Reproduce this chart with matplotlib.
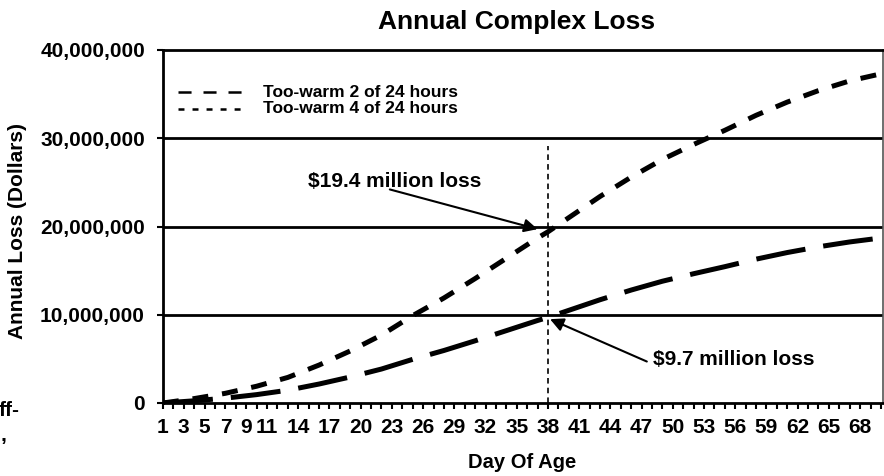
import numpy as np
import matplotlib
matplotlib.use("Agg")
import matplotlib.pyplot as plt
from matplotlib.ticker import FuncFormatter

plt.rcParams['font.family'] = ['Liberation Sans', 'DejaVu Sans']
plt.rcParams['font.weight'] = 'bold'
plt.rcParams['lines.scale_dashes'] = False

# datos (millones de dolares)
days = [1, 4, 7, 10, 13, 16, 19, 22, 25, 28, 31, 34, 37, 38, 40, 43, 46, 49,
        52, 55, 58, 61, 64, 67, 70]
loss_4h = [0.0, 0.5, 1.1, 1.9, 2.9, 4.3, 5.9, 7.7, 9.9, 11.9, 14.1, 16.4, 18.7,
           19.4, 21.0, 23.4, 25.6, 27.6, 29.3, 30.9, 32.6, 34.1, 35.4, 36.5, 37.3]
loss_2h = [0.0, 0.25, 0.55, 0.95, 1.45, 2.15, 2.95, 3.85, 4.95, 5.95, 7.05, 8.2,
           9.35, 9.7, 10.5, 11.7, 12.8, 13.8, 14.65, 15.45, 16.3, 17.05, 17.7,
           18.25, 18.7]
label_days = [1, 3, 5, 7, 9, 11] + list(range(14, 69, 3))
yticks = [0, 10e6, 20e6, 30e6, 40e6]
marker_day = 38

fig = plt.figure(figsize=(8.84, 4.76), dpi=100)
ax = fig.add_axes([163/884, 1-403/476, 720/884, 353/476])

d = np.array(days)
ax.plot(d, np.array(loss_2h)*1e6, color='black', lw=3.6,
        linestyle=(0, (36, 13)), dash_capstyle='butt')
ax.plot(d, np.array(loss_4h)*1e6, color='black', lw=3.6,
        linestyle=(0, (11.5, 10)), dash_capstyle='butt')

# linea vertical dia 38
ax.plot([marker_day, marker_day], [0, 29.1e6], color='black', lw=1.2,
        linestyle=(0, (4, 3)))

ax.set_xlim(1, 70.2)
ax.set_ylim(0, 40e6)
ax.set_yticks(yticks)
ax.yaxis.set_major_formatter(FuncFormatter(lambda v, p: f"{int(v):,}"))
ax.set_xticks(range(1, 71))
ax.set_xticklabels([str(x) if x in label_days else '' for x in range(1, 71)])
ax.tick_params(axis='both', direction='out', length=4, width=1.5, labelsize=15)
ax.tick_params(axis='y', pad=9)
ax.tick_params(axis='x', pad=7)
for t in ax.get_xticklabels() + ax.get_yticklabels():
    t.set_fontweight('bold')

for y in yticks[1:4]:
    ax.axhline(y, color='black', lw=2, zorder=0)
for s in ['left', 'bottom', 'top']:
    ax.spines[s].set_linewidth(2)
ax.spines['right'].set_linewidth(1.2)
ax.spines['right'].set_color('#555555')

# leyenda manual
ax.plot([0.0208, 0.1167], [0.881, 0.881], transform=ax.transAxes,
        color='black', lw=1.8, linestyle=(0, (9.4, 8.6)))
ax.plot([0.0208, 0.1167], [0.833, 0.833], transform=ax.transAxes,
        color='black', lw=1.8, linestyle=(0, (4.3, 5.8)))
ax.text(0.139, 0.881, 'Too-warm 2 of 24 hours', transform=ax.transAxes,
        fontsize=12.5, va='center', ha='left')
ax.text(0.139, 0.833, 'Too-warm 4 of 24 hours', transform=ax.transAxes,
        fontsize=12.5, va='center', ha='left')

# anotaciones
arrow = dict(arrowstyle='-|>', color='black', lw=1.5, mutation_scale=20,
             shrinkA=0, shrinkB=0)
ax.annotate('', xy=(37.0, 19.7e6), xytext=(22.8, 24.2e6), arrowprops=arrow)
ax.text(14.9, 25.1e6, r'\$19.4 million loss', fontsize=15, va='center', ha='left')
ax.annotate('', xy=(38.2, 9.5e6), xytext=(47.5, 4.7e6), arrowprops=arrow)
ax.text(48.1, 4.9e6, r'\$9.7 million loss', fontsize=15, va='center', ha='left')

fig.text(517/884, 1-22/476, 'Annual Complex Loss', fontsize=19,
         ha='center', va='center')
fig.text(522/884, 1-463/476, 'Day Of Age', fontsize=14.5,
         ha='center', va='center')
fig.text(18/884, 1-231/476, 'Annual Loss (Dollars)', fontsize=15,
         rotation=90, ha='center', va='center')
fig.text(20/884, 1-410/476, 'ff-', fontsize=15, ha='right', va='center')
fig.text(1/884, 1-436/476, ',', fontsize=15, ha='left', va='center')

fig.savefig('out.png', dpi=100)
